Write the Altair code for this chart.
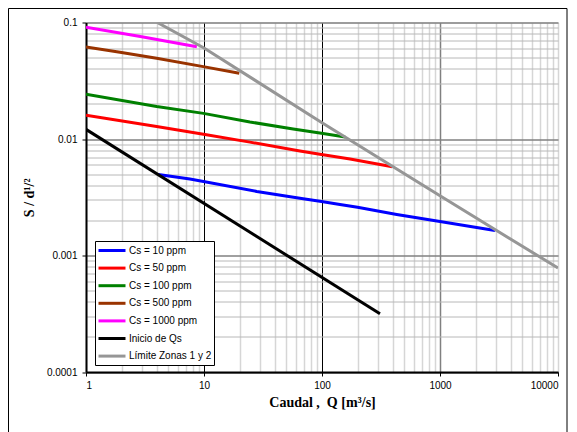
import altair as alt
import pandas as pd

# ---- data ----
series_names = ["Cs = 10 ppm", "Cs = 50 ppm", "Cs = 100 ppm", "Cs = 500 ppm",
                "Cs = 1000 ppm", "Inicio de Qs", "Límite Zonas 1 y 2"]
series_colors = ["#0000FF", "#FF0000", "#008000", "#993300", "#FF00FF", "#000000", "#969696"]

cs10_q = [4.1, 7.6, 9.9, 28, 65, 99, 142, 200, 430, 1000, 2925]
cs10_s = [0.00495, 0.00453, 0.00432, 0.00355, 0.0031, 0.00291, 0.00274, 0.00259, 0.00225, 0.00196, 0.00164]

cs50_q = [1, 3.97, 9.9, 24.5, 65, 99, 173, 395]
cs50_s = [0.0160, 0.0128, 0.0110, 0.0094, 0.0079, 0.00735, 0.00673, 0.00578]

cs100_q = [1, 3.97, 9.9, 24.5, 57, 99, 157]
cs100_s = [0.0242, 0.0190, 0.0166, 0.0140, 0.0122, 0.0112, 0.0104]

cs500_q = [1, 1.94, 3.97, 9.86, 19.9]
cs500_s = [0.0617, 0.0556, 0.0493, 0.0418, 0.0367]

cs1000_q = [1, 2.97, 8.7]
cs1000_s = [0.091, 0.0755, 0.062]

inicio_q = [1, 310]
inicio_s = [0.0121, 0.000316]

limite_q = [4.02, 10, 100, 1000, 10000]
limite_s = [0.1, 0.0605, 0.0138, 0.00326, 0.00078]

x_ticks = [m * 10 ** e for e in range(0, 4) for m in range(1, 10)] + [10000]
y_ticks = [round(m * 10.0 ** e, 6) for e in range(-4, -1) for m in range(1, 10)] + [0.1]

all_q = [cs10_q, cs50_q, cs100_q, cs500_q, cs1000_q, inicio_q, limite_q]
all_s = [cs10_s, cs50_s, cs100_s, cs500_s, cs1000_s, inicio_s, limite_s]

rows = []
for name, qs, ss in zip(series_names, all_q, all_s):
    for i, (q, s) in enumerate(zip(qs, ss)):
        rows.append({"serie": name, "Q": q, "S": s, "i": i})
df = pd.DataFrame(rows)

is_major_y = "abs(log(datum.value)/LN10 - round(log(datum.value)/LN10)) < 1e-6"
is_major_x = "indexof([1,10,100,1000,10000], datum.value) >= 0"

x_axis = alt.Axis(
    values=x_ticks,
    labelExpr=is_major_x + " ? format(datum.value, 'd') : ''",
    grid=True,
    gridColor={"condition": [
        {"test": "datum.value == 10 || datum.value == 100", "value": "#000000"},
        {"test": "datum.value == 1000", "value": "#808080"}], "value": "#d6d6d6"},
    gridWidth={"condition": {"test": "datum.value == 10 || datum.value == 100", "value": 1}, "value": 1.5},
    tickOpacity={"condition": {"test": is_major_x, "value": 1}, "value": 0},
    tickSize=4, tickColor="black", tickWidth=1,
    domainColor="black", domainWidth=2,
    labelFont="Liberation Sans", labelFontSize=10, labelColor="black", labelPadding=4,
    title="Caudal ,\u00a0 Q [m³/s]", titleFont="Liberation Serif", titleFontSize=14,
    titleFontWeight="bold", titleColor="black", titlePadding=5,
)

y_axis = alt.Axis(
    values=y_ticks,
    labelExpr=is_major_y + " ? format(datum.value, '~g') : ''",
    grid=True,
    gridColor={"condition": {"test": is_major_y, "value": "#808080"}, "value": "#b8b8b8"},
    gridWidth={"condition": {"test": is_major_y, "value": 1.5}, "value": 1},
    tickOpacity={"condition": {"test": is_major_y, "value": 1}, "value": 0},
    tickSize=4, tickColor="black", tickWidth=1,
    domainColor="black", domainWidth=2,
    labelFont="Liberation Sans", labelFontSize=10, labelColor="black", labelPadding=5,
    title="S / d¹/²", titleFont="Liberation Serif", titleFontSize=14,
    titleFontWeight="bold", titleColor="black", titlePadding=10,
)

lines = alt.Chart(df).mark_line(strokeWidth=3, clip=True).encode(
    x=alt.X("Q:Q", scale=alt.Scale(type="log", domain=[1, 10000], nice=False), axis=x_axis),
    y=alt.Y("S:Q", scale=alt.Scale(type="log", domain=[0.0001, 0.1], nice=False), axis=y_axis),
    color=alt.Color("serie:N", scale=alt.Scale(domain=series_names, range=series_colors),
                    sort=series_names,
                    legend=alt.Legend(title=None, orient="none", legendX=9, legendY=218.5,
                                      strokeColor="black", fillColor="white", padding=2,
                                      symbolType="M-1,0H3.5", symbolSize=144,
                                      symbolStrokeWidth=3, labelOffset=17, rowPadding=3.6,
                                      labelFont="Liberation Sans", labelFontSize=10,
                                      labelColor="black", cornerRadius=0)),
    order="i:Q",
)

frame = alt.Chart(pd.DataFrame({"a": [0]})).mark_rect(
    fillOpacity=0, stroke="black", strokeWidth=1
).encode(x=alt.value(-77.5), x2=alt.value(481), y=alt.value(-14), y2=alt.value(440))

chart = alt.layer(lines, frame).properties(
    width=472, height=349.5,
    autosize=alt.AutoSizeParams(type="none"),
    padding={"left": 78, "top": 14.5, "right": 10, "bottom": 70},
).configure_view(stroke="black", strokeWidth=2).configure(background="white")

chart.save("out.html", embed_options={"renderer": "svg", "actions": False})
